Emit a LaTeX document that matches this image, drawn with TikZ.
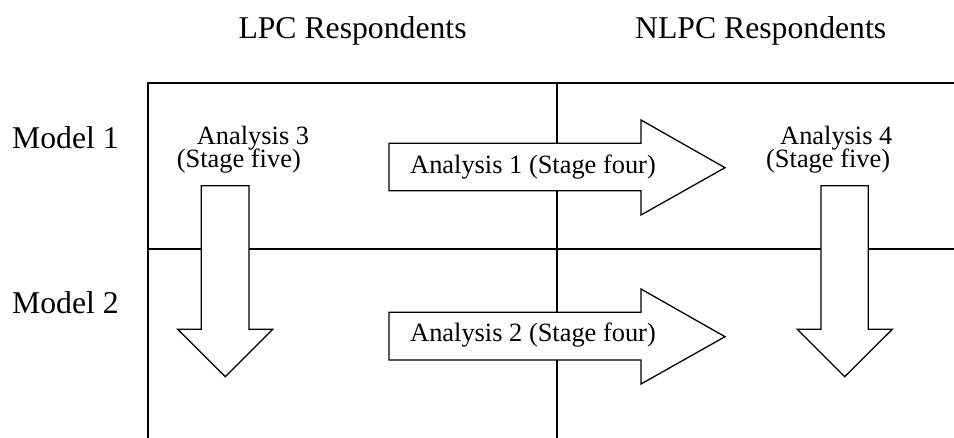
\documentclass[tikz,border=0pt]{standalone}
\usepackage{fontspec}
\setmainfont{Liberation Serif}
\begin{document}
\begin{tikzpicture}[x=1pt,y=-1pt,
  gridline/.style={line width=2pt, line cap=rect},
  bigarrow/.style={draw, fill=white, line width=1.3pt, line join=miter},
  bigtext/.style={font=\fontsize{31.7}{36}\selectfont, inner sep=0pt, anchor=base west},
  smalltext/.style={font=\fontsize{26.4}{30}\selectfont, inner sep=0pt, anchor=base west}]
\useasboundingbox (0,0) rectangle (954,438);
% table lines
\draw[gridline, line cap=butt] (954,82.7) -- (148.3,82.7) -- (148.3,438);
\draw[gridline, line cap=butt] (556.7,82.7) -- (556.7,438);
\draw[gridline, line cap=butt] (148.3,249) -- (954,249);
% headers
\node[bigtext] (lpc) at (238.3,39) {LPC Respondents};
\node[bigtext] (nlpc) at (635,39) {NLPC Respondents};
\node[bigtext] (m1) at (12,149) {Model 1};
\node[bigtext] (m2) at (12,314) {Model 2};
% arrows
\draw[bigarrow] (389,143.3) -- (641,143.3) -- (641,120) -- (725,167.7) -- (641,215) -- (641,190.7) -- (389,190.7) -- cycle;
\draw[bigarrow] (389,312.3) -- (641,312.3) -- (641,289) -- (725,336.7) -- (641,384) -- (641,360) -- (389,360) -- cycle;
\draw[bigarrow] (201.3,185.7) -- (249,185.7) -- (249,329.3) -- (272.7,329.3) -- (225.3,376.7) -- (177.7,329.3) -- (201.3,329.3) -- cycle;
\draw[bigarrow] (821,185.7) -- (868.3,185.7) -- (868.3,329.3) -- (892.3,329.3) -- (844.7,376.7) -- (797.3,329.3) -- (821,329.3) -- cycle;
% arrow labels
\node[smalltext] (a1) at (410,173.3) {Analysis 1 (Stage four)};
\node[smalltext] (a2) at (410,341.7) {Analysis 2 (Stage four)};
\node[smalltext] (a3a) at (196.7,145) {Analysis 3};
\node[smalltext] (a3b) at (176.7,167.3) {(Stage five)};
\node[smalltext] (a4a) at (780,145) {Analysis 4};
\node[smalltext] (a4b) at (766,167.3) {(Stage five)};
\end{tikzpicture}
\end{document}
